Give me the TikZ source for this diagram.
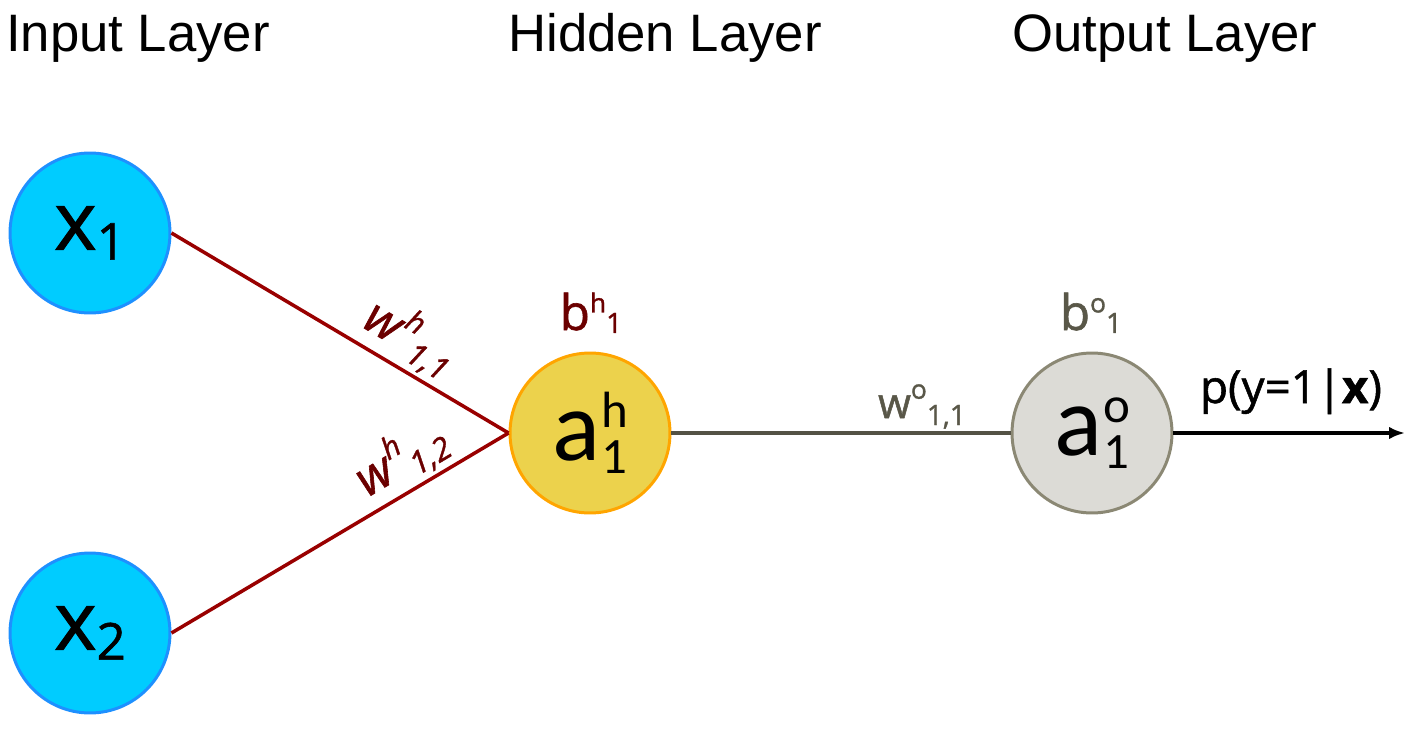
\documentclass[tikz,border=0pt]{standalone}
\usepackage{fontspec}
\setmainfont[FakeBold=1.2]{Open Sans}
\newfontfamily\titlefont{Liberation Sans}
\newfontfamily\calfont{Carlito}
\usetikzlibrary{arrows.meta}
\definecolor{xfill}{HTML}{00CCFF}
\definecolor{xdraw}{HTML}{1E90FF}
\definecolor{hfill}{HTML}{ECD24C}
\definecolor{hdraw}{HTML}{FFA500}
\definecolor{ofill}{HTML}{DCDBD6}
\definecolor{odraw}{HTML}{8B8874}
\definecolor{redline}{HTML}{990000}
\definecolor{redtext}{HTML}{6B0000}
\definecolor{grayline}{HTML}{545245}
\definecolor{graytext}{HTML}{595748}
\newcommand{\fsz}[1]{\fontsize{#1}{#1}\selectfont}
\tikzset{
  neuron/.style={circle, minimum size=3.2cm, inner sep=0pt, line width=1.7pt},
  inneuron/.style={neuron, fill=xfill, draw=xdraw},
  hidneuron/.style={neuron, fill=hfill, draw=hdraw},
  outneuron/.style={neuron, fill=ofill, draw=odraw},
  title/.style={anchor=base, inner sep=0pt, font=\titlefont\fsz{30}},
  rededge/.style={draw=redline, line width=2pt},
  grayedge/.style={draw=grayline, line width=2pt},
  wlabel/.style={text=redtext, sloped, inner sep=2pt},
}
\begin{document}
\begin{tikzpicture}[x=0.02cm, y=-0.02cm]
\useasboundingbox (0,0) rectangle (1416,740);
% titles
\node[title] (t1) at (138,52) {Input Layer};
\node[title] (t2) at (665,52) {Hidden Layer};
\node[title] (t3) at (1165,52) {Output Layer};
% neurons
\node[inneuron] (x1) at (90,233) {\fsz{46}x\raisebox{-5.7pt}{\fsz{29}1}};
\node[inneuron] (x2) at (90,633) {\fsz{46}x\raisebox{-5.7pt}{\fsz{29}2}};
\node[hidneuron] (ah) at (590,433) {\calfont\fsz{57}a\kern1pt\rlap{\raisebox{19pt}{\fsz{29}h}}\raisebox{-7.4pt}{\fsz{29}1}};
\node[outneuron] (ao) at (1092,433) {\calfont\fsz{57}a\kern1pt\rlap{\raisebox{19pt}{\fsz{29}o}}\raisebox{-7.4pt}{\fsz{29}1}};
% biases
\node[anchor=base, inner sep=0pt, text=redtext] (bh) at (591,330) {\fsz{28}b\raisebox{10pt}{\fsz{15}h}\raisebox{-1.7pt}{\fsz{16}1}};
\node[anchor=base, inner sep=0pt, text=graytext] (bo) at (1091,330) {\fsz{28}b\raisebox{10pt}{\fsz{15}o}\raisebox{-1.7pt}{\fsz{16}1}};
% edges
\draw[rededge] (x1.east) -- node[wlabel, pos=0.66, above] (w11) {\itshape\fsz{28}w\kern1pt\raisebox{12pt}{\fsz{17}h}\raisebox{-4pt}{\fsz{18}1,1}} (ah.west);
\draw[rededge] (x2.east) -- node[wlabel, pos=0.73, above] (w12) {\itshape\fsz{28}w\kern1pt\raisebox{12pt}{\fsz{17}h}\raisebox{-4pt}{\fsz{18}1,2}} (ah.west);
\draw[grayedge] (ah.east) -- (ao.west);
\node[anchor=base, inner sep=0pt, text=graytext] (wo) at (922,418) {\fsz{24}w\raisebox{11pt}{\fsz{15}o}\raisebox{-4pt}{\fsz{16}1,1}};
\coordinate (out) at (1405,433);
\draw[line width=2pt, -{Latex[length=9pt,width=7pt]}] (ao.east) -- (out);
\node[anchor=base, inner sep=0pt] (py) at (1291,403) {\fsz{26}p(y=1|\textbf{x})};
\end{tikzpicture}
\end{document}
